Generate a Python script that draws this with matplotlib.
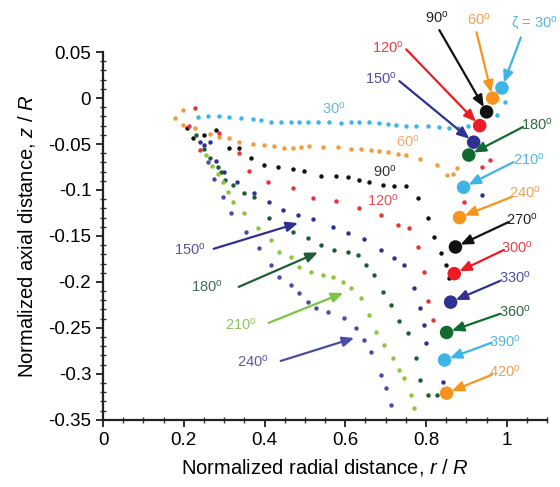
import numpy as np
import matplotlib
matplotlib.use("Agg")
import matplotlib.pyplot as plt
from matplotlib.ticker import MultipleLocator, FixedLocator

plt.rcParams['font.family'] = ['Liberation Sans', 'DejaVu Sans']
plt.rcParams['mathtext.fontset'] = 'custom'
plt.rcParams['mathtext.rm'] = 'Liberation Sans'
plt.rcParams['mathtext.it'] = 'Liberation Sans:italic'
plt.rcParams['axes.unicode_minus'] = False

# vortex core positions (r/R, z/R) for each blade angle
r30 = [0.235, 0.259, 0.286, 0.311, 0.341, 0.371, 0.391, 0.415, 0.440, 0.465, 0.485, 0.507, 0.532, 0.560, 0.590,
       0.614, 0.634, 0.659, 0.684, 0.706, 0.726, 0.751, 0.776, 0.806, 0.833, 0.856, 0.880, 0.905, 0.975, 0.995]
z30 = [-0.021, -0.0196, -0.0196, -0.0207, -0.0217, -0.0228, -0.0239, -0.0261, -0.0261, -0.0261, -0.0261, -0.0261,
       -0.0261, -0.0261, -0.0272, -0.0261, -0.0261, -0.0261, -0.0272, -0.0283, -0.0293, -0.0304, -0.0304, -0.0304,
       -0.0315, -0.0326, -0.033, -0.030, -0.018, -0.004]

r60 = [0.197, 0.179, 0.199, 0.229, 0.266, 0.286, 0.311, 0.336, 0.371, 0.398, 0.423, 0.448, 0.470, 0.490, 0.510,
       0.545, 0.582, 0.614, 0.639, 0.664, 0.684, 0.706, 0.731, 0.751, 0.784, 0.826, 0.851, 0.868, 0.876]
z60 = [-0.013, -0.022, -0.029, -0.033, -0.039, -0.042, -0.0435, -0.048, -0.050, -0.051, -0.052, -0.054, -0.054,
       -0.053, -0.052, -0.053, -0.053, -0.055, -0.055, -0.0565, -0.0576, -0.0587, -0.061, -0.062, -0.066, -0.073,
       -0.084, -0.083, -0.076]

r90 = [0.209, 0.224, 0.250, 0.279, 0.311, 0.336, 0.366, 0.398, 0.433, 0.470, 0.4975, 0.540, 0.577, 0.607, 0.634,
       0.659, 0.694, 0.721, 0.751, 0.781, 0.806, 0.821, 0.838, 0.850, 0.858]
z90 = [-0.033, -0.0435, -0.040, -0.035, -0.054, -0.054, -0.065, -0.0728, -0.075, -0.077, -0.079, -0.0848, -0.0848,
       -0.0859, -0.089, -0.0913, -0.0946, -0.0957, -0.0957, -0.1087, -0.1304, -0.151, -0.1685, -0.182, -0.196]

r120 = [0.229, 0.212, 0.241, 0.286, 0.336, 0.361, 0.408, 0.470, 0.520, 0.577, 0.634, 0.689, 0.731, 0.759, 0.781,
        0.794, 0.806, 0.818, 0.893, 0.938, 0.958]
z120 = [-0.011, -0.030, -0.0565, -0.038, -0.060, -0.079, -0.091, -0.098, -0.109, -0.112, -0.120, -0.127, -0.138,
        -0.141, -0.162, -0.189, -0.221, -0.241, -0.113, -0.075, -0.067]

r150 = [0.241, 0.249, 0.266, 0.280, 0.300, 0.333, 0.373, 0.410, 0.445, 0.483, 0.520, 0.570, 0.607, 0.647, 0.689,
        0.721, 0.746, 0.771, 0.784, 0.796, 0.800, 0.843, 0.938]
z150 = [-0.0478, -0.051, -0.048, -0.068, -0.080, -0.0913, -0.103, -0.113, -0.1217, -0.127, -0.1315, -0.140,
        -0.1467, -0.1533, -0.165, -0.174, -0.1815, -0.2065, -0.228, -0.2467, -0.266, -0.309, -0.105]

r180 = [0.230, 0.250, 0.266, 0.284, 0.291, 0.303, 0.321, 0.350, 0.373, 0.410, 0.470, 0.507, 0.540, 0.572, 0.607,
        0.632, 0.652, 0.672, 0.694, 0.714, 0.734, 0.756, 0.776, 0.784, 0.806, 0.826]
z180 = [-0.040, -0.055, -0.0652, -0.075, -0.080, -0.089, -0.0946, -0.103, -0.1076, -0.130, -0.1457, -0.152, -0.160,
        -0.165, -0.168, -0.1707, -0.1815, -0.1924, -0.211, -0.225, -0.2424, -0.2554, -0.2826, -0.3065, -0.3228,
        -0.3228]

r210 = [0.255, 0.270, 0.285, 0.298, 0.310, 0.321, 0.348, 0.383, 0.415, 0.435, 0.465, 0.485, 0.515, 0.545, 0.570,
        0.595, 0.614, 0.639, 0.659, 0.677, 0.697, 0.719, 0.734, 0.746, 0.764, 0.771]
z210 = [-0.062, -0.074, -0.083, -0.0913, -0.102, -0.113, -0.125, -0.141, -0.154, -0.168, -0.173, -0.184, -0.189,
        -0.192, -0.1946, -0.200, -0.2065, -0.217, -0.236, -0.254, -0.2685, -0.2826, -0.2957, -0.304, -0.3228, -0.337]

r240 = [0.260, 0.275, 0.296, 0.316, 0.353, 0.386, 0.415, 0.435, 0.465, 0.485, 0.507, 0.527, 0.557, 0.597, 0.627,
        0.647, 0.664, 0.689, 0.701, 0.714]
z240 = [-0.070, -0.088, -0.1076, -0.125, -0.1457, -0.163, -0.1815, -0.1946, -0.2033, -0.212, -0.2217, -0.2283,
        -0.2326, -0.239, -0.250, -0.263, -0.276, -0.301, -0.315, -0.3337]

# vortex centre near the blade tip for each angle
angulos = [30, 60, 90, 120, 150, 180, 210, 240, 270, 300, 330, 360, 390, 420]
centro_r = [0.988, 0.965, 0.950, 0.933, 0.918, 0.906, 0.893, 0.883, 0.873, 0.870, 0.861, 0.851, 0.846, 0.851]
centro_z = [0.011, 0.000, -0.015, -0.030, -0.048, -0.062, -0.097, -0.130, -0.162, -0.191, -0.222, -0.255, -0.285,
            -0.321]

celeste = '#3db5e6'
naranja = '#f7941d'
negro = '#111111'
rojo = '#ed1c24'
azul = '#2e3192'
verde = '#0f6b30'
verde_claro = '#8cc63f'
violeta = '#4a4ca6'

col_centro = [celeste, naranja, negro, rojo, azul, verde, celeste, naranja, negro, rojo, azul, verde, celeste, naranja]
col_texto = {celeste: '#55b6e4', naranja: '#f3a04e', negro: '#222222', rojo: '#e8404a',
             azul: '#4c50a6', verde: '#2f6a46'}

fig = plt.figure(figsize=(5.6, 4.87), dpi=100)
ax = fig.add_axes([0.184, 0.138, 0.793, 0.755])

series = [(r30, z30, celeste), (r60, z60, '#f39a3c'), (r90, z90, negro), (r120, z120, '#e8323a'),
          (r150, z150, azul), (r180, z180, '#1d5e36'), (r210, z210, verde_claro), (r240, z240, violeta)]
for r, z, c in series:
    ax.plot(r, z, 'o', ms=3.2, color=c, mec='none', zorder=2)

ax.scatter(centro_r, centro_z, s=95, c=col_centro, zorder=4, edgecolors='none')

grados = '$^\\mathregular{o}$'

# label centre, arrow tail
pos_etiqueta = [((1.068, 0.0815), (1.035, 0.066)), ((0.930, 0.085), (0.925, 0.0717)),
                ((0.826, 0.087), (0.833, 0.074)), ((0.706, 0.0554), (0.751, 0.053)),
                ((0.689, 0.0217), (0.734, 0.0185)), ((1.075, -0.0293), (1.040, -0.0315)),
                ((1.055, -0.0674), (1.017, -0.0696)), ((1.045, -0.103), (1.012, -0.1076)),
                ((1.037, -0.1326), (1.005, -0.1348)), ((1.025, -0.163), (0.993, -0.1652)),
                ((1.020, -0.1957), (0.983, -0.199)), ((1.020, -0.2326), (0.983, -0.2348)),
                ((0.995, -0.265), (0.963, -0.266)), ((0.995, -0.298), (0.963, -0.301))]

for i, a in enumerate(angulos):
    (tx, ty), (ax0, ay0) = pos_etiqueta[i]
    texto = ('ζ = %d' % a if a == 30 else '%d' % a) + grados
    c = col_centro[i]
    ax.annotate('', xy=(centro_r[i], centro_z[i]), xytext=(ax0, ay0),
                arrowprops=dict(arrowstyle='-|>,head_length=0.7,head_width=0.3', color=c, lw=1.6,
                                shrinkA=0, shrinkB=4), zorder=5, annotation_clip=False)
    ax.text(tx, ty, texto, color=col_texto[c], fontsize=10.5, ha='center', va='center', clip_on=False)

# labels along the dotted lines
for txt, x, y, c in [('30', 0.572, -0.011, '#6ab8e0'), ('60', 0.756, -0.0478, '#f3aa66'),
                     ('90', 0.697, -0.0804, '#333333'), ('120', 0.694, -0.112, '#e8505a')]:
    ax.text(x, y, txt + grados, color=c, fontsize=10.5, ha='center', va='center')

# labels with arrows on the left side
izq = [('150', (0.216, -0.165), (0.274, -0.164), (0.483, -0.136), azul, '#5558a8'),
       ('180', (0.256, -0.2054), (0.336, -0.2054), (0.532, -0.168), '#1d5e36', '#3f6e52'),
       ('210', (0.341, -0.2467), (0.410, -0.2446), (0.595, -0.212), '#7cc444', '#8cc860'),
       ('240', (0.371, -0.287), (0.440, -0.286), (0.622, -0.261), violeta, '#5a5aac')]
for txt, (tx, ty), cola, punta, c, ct in izq:
    ax.annotate('', xy=punta, xytext=cola,
                arrowprops=dict(arrowstyle='-|>,head_length=0.7,head_width=0.3', color=c, lw=1.6,
                                shrinkA=0, shrinkB=0), zorder=5)
    ax.text(tx, ty, txt + grados, color=ct, fontsize=10.5, ha='center', va='center')

ax.set_xlim(0, 1.1)
ax.set_ylim(-0.35, 0.05)
ax.set_xticks([0, 0.2, 0.4, 0.6, 0.8, 1.0])
ax.set_xticklabels(['0', '0.2', '0.4', '0.6', '0.8', '1'])
ax.set_yticks([0.05, 0, -0.05, -0.1, -0.15, -0.2, -0.25, -0.3, -0.35])
ax.set_yticklabels(['0.05', '0', '-0.05', '-0.1', '-0.15', '-0.2', '-0.25', '-0.3', '-0.35'])
ax.xaxis.set_minor_locator(MultipleLocator(0.05))
ax.yaxis.set_minor_locator(MultipleLocator(0.01))
ax.tick_params(which='major', direction='out', length=5, width=1.3, labelsize=13.5, color='#222222')
ax.tick_params(which='minor', direction='inout', length=4, width=1.0, color='#333333')

for lado in ['top', 'right']:
    ax.spines[lado].set_visible(False)
for lado in ['left', 'bottom']:
    ax.spines[lado].set_linewidth(1.6)
    ax.spines[lado].set_color('#222222')

ax.set_xlabel('Normalized radial distance, $\\it{r}$ / $\\it{R}$', fontsize=14.5, labelpad=6)
ax.set_ylabel('Normalized axial distance, $\\it{z}$ / $\\it{R}$', fontsize=14.5, labelpad=8)

fig.savefig('out.png', dpi=100)
